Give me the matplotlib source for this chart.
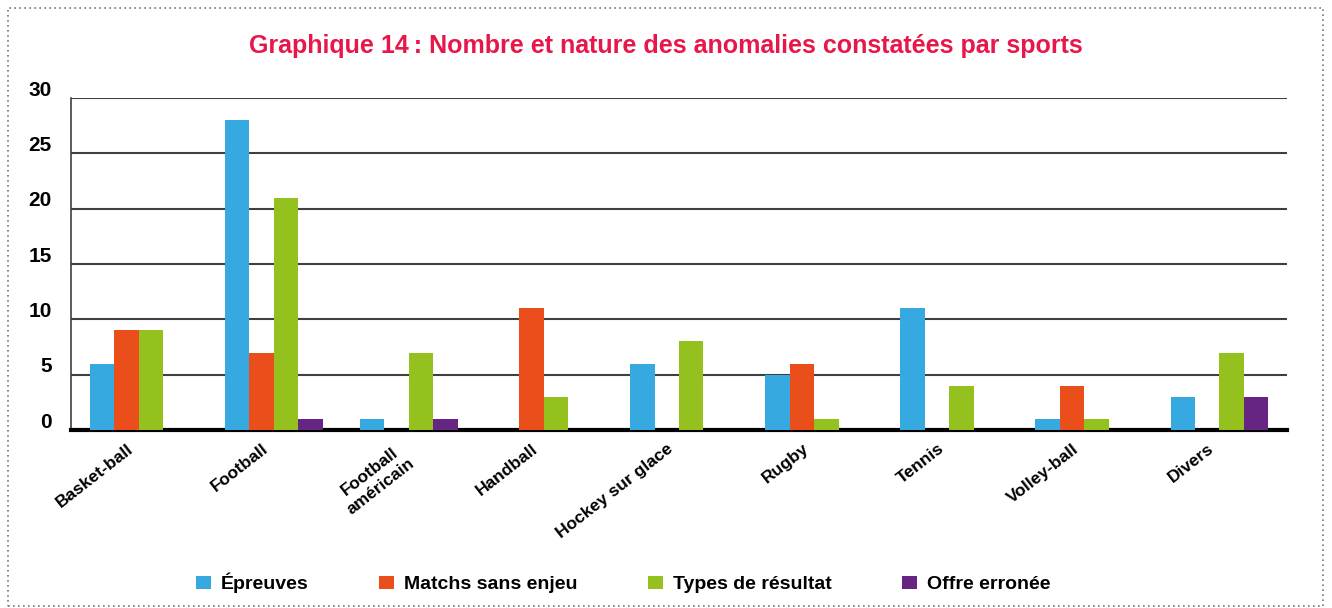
import numpy as np
import matplotlib.pyplot as plt
from matplotlib.patches import Rectangle
from matplotlib.transforms import ScaledTranslation

sports = ['Basket-ball', 'Football', 'Football\naméricain', 'Handball',
          'Hockey sur glace', 'Rugby', 'Tennis', 'Volley-ball', 'Divers']

epreuves = [6, 28, 1, 0, 6, 5, 11, 1, 3]
matchs = [9, 7, 0, 11, 0, 6, 0, 4, 0]
types_res = [9, 21, 7, 3, 8, 1, 4, 1, 7]
offre = [0, 1, 1, 0, 0, 0, 0, 0, 3]

series_names = ['Épreuves', 'Matchs sans enjeu', 'Types de résultat', 'Offre erronée']
colors = ['#36a9e0', '#e94e1b', '#95c11f', '#662483']

plt.rcParams['font.family'] = ['Liberation Sans', 'DejaVu Sans']

fig = plt.figure(figsize=(13.32, 6.08), dpi=100)
ax = fig.add_axes([71/1332, 1-430/608, (1287-71)/1332, (430-98)/608])

x = np.arange(len(sports))
w = 0.181
for i, (vals, name, c) in enumerate(zip([epreuves, matchs, types_res, offre], series_names, colors)):
    ax.bar(x - 1.5*w + i*w, vals, width=w, color=c, label=name, zorder=3)

ax.set_xlim(-0.5, len(sports) - 0.5)
ax.set_ylim(0, 30)
ax.set_yticks([0, 5, 10, 15, 20, 25, 30])
ax.yaxis.grid(True, color='#404040', linewidth=1.5, zorder=0)
ax.set_axisbelow(True)
ax.tick_params(axis='y', length=0, pad=14, labelsize=15)
ax.tick_params(axis='x', length=0, pad=8)
for lab in ax.get_yticklabels():
    lab.set_fontweight('bold')
    lab.set_transform(lab.get_transform() + ScaledTranslation(0, 0.10, fig.dpi_scale_trans))

for s in ['top', 'right']:
    ax.spines[s].set_visible(False)
ax.spines['left'].set_color('#404040')
ax.spines['left'].set_linewidth(1.2)
ax.spines['bottom'].set_color('black')
ax.spines['bottom'].set_linewidth(3)

ax.set_xticks(x)
ax.set_xticklabels(sports, rotation=38, ha='right', rotation_mode='anchor',
                   fontsize=12.5, fontweight='bold', multialignment='center',
                   linespacing=1.3)
for lab in ax.get_xticklabels():
    lab.set_transform(lab.get_transform() + ScaledTranslation(-0.12, 0, fig.dpi_scale_trans))

fig.text(0.5, 1-46/608, 'Graphique 14\u2009: Nombre et nature des anomalies constatées par sports',
         ha='center', va='center', color='#e8174a', fontsize=18, fontweight='bold')

leg = fig.legend(loc='center', bbox_to_anchor=(623/1332, 1-583/608), ncol=4, frameon=False,
                 prop={'weight': 'bold', 'size': 14}, handlelength=0.8, handleheight=0.7,
                 columnspacing=3.6, handletextpad=0.5)

fig.patches.append(Rectangle((8/1332, 1-606/608), (1323-8)/1332, (606-8)/608,
                             transform=fig.transFigure, fill=False,
                             edgecolor='#777777', linestyle=(0, (1, 2)), linewidth=1.2))

fig.savefig('out.png', dpi=100)
